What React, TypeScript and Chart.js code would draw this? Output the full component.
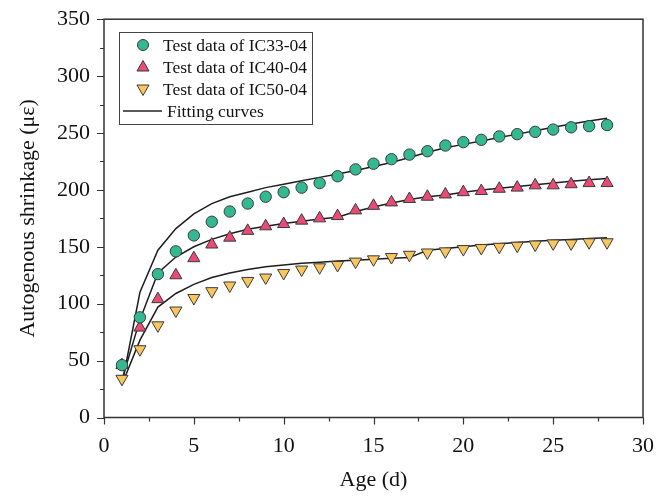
import React, { useEffect, useRef } from 'react';
import { Chart, registerables } from 'chart.js';

Chart.register(...registerables);

const days = [1, 2, 3, 4, 5, 6, 7, 8, 9, 10, 11, 12, 13, 14, 15, 16, 17, 18, 19, 20, 21, 22, 23, 24, 25, 26, 27, 28];

const ic33 = [46, 88, 126, 146, 160, 172, 181, 188, 194, 198, 202, 206, 212, 218, 223, 227, 231, 234, 239, 242, 244, 247, 249, 251, 253, 255, 256, 257];
const ic40 = [46, 79, 104, 125, 140, 152, 158, 164, 168, 170, 173, 175, 177, 182, 186, 189, 192, 194, 196, 198, 199, 201, 202, 204, 204, 205, 206, 206];
const ic50 = [34, 60, 81, 94, 105, 111, 116, 120, 123, 127, 130, 132, 134, 137, 139, 141, 143, 145, 146, 148, 149, 150, 151, 152, 153, 153, 154, 154];

const fit33 = [29, 110, 147, 166, 179, 188, 194, 198, 202, 205, 208, 211, 214, 217, 220.5, 224, 228.5, 233, 237, 240, 243, 246, 249, 252, 255, 258, 260.5, 263];
const fit40 = [33, 86, 127, 141, 150, 156.5, 161.5, 165.5, 168, 170.5, 172.5, 174.5, 176, 181, 185, 188.5, 191.5, 194, 195.5, 198, 200, 201.5, 203, 204.5, 206, 207.5, 209, 210];
const fit50 = [29, 68, 97, 109, 117, 123, 127, 130, 132.5, 134, 135.5, 136.5, 137.5, 138.2, 139, 140, 140.5, 147, 148.5, 150, 151.5, 152.7, 153.8, 154.8, 155.7, 156.5, 157.2, 158];

const seriesLabels = ['Test data of IC33-04', 'Test data of IC40-04', 'Test data of IC50-04', 'Fitting curves'];
const xTitle = 'Age (d)';
const yTitle = 'Autogenous shrinkage (\u03bc\u03b5)';

const FONT = '"Liberation Serif", "Times New Roman", serif';
const C_TEAL = '#34b892';
const C_PINK = '#e94a76';
const C_YELLOW = '#f8c55e';
const EDGE = '#3a3a3a';
const TEXT = '#111';

const pts = (ys: number[]) => days.map((d, i) => ({ x: d, y: ys[i] }));

function drawMarker(ctx: CanvasRenderingContext2D, kind: string, x: number, y: number, r: number, fill: string) {
  ctx.beginPath();
  if (kind === 'circle') {
    ctx.arc(x, y, r, 0, Math.PI * 2);
  } else {
    const s = kind === 'up' ? 1 : -1;
    const h = Math.sqrt(3) / 2 * r;
    ctx.moveTo(x, y - s * r);
    ctx.lineTo(x + h, y + s * r / 2);
    ctx.lineTo(x - h, y + s * r / 2);
    ctx.closePath();
  }
  ctx.fillStyle = fill;
  ctx.fill();
  ctx.lineWidth = 1;
  ctx.strokeStyle = EDGE;
  ctx.stroke();
}

const framePlugin = {
  id: 'frame',
  afterDraw(chart: any) {
    const { ctx, chartArea: a, scales } = chart;
    const xs = scales.x;
    const ys = scales.y;
    ctx.save();
    ctx.strokeStyle = '#333';
    ctx.lineWidth = 1.5;
    ctx.strokeRect(a.left, a.top, a.right - a.left, a.bottom - a.top);
    ctx.lineWidth = 1.2;
    ctx.beginPath();
    for (let v = 0; v <= 30.001; v += 2.5) {
      const px = Math.round(xs.getPixelForValue(v)) + 0.5;
      const len = Math.abs(v % 5) < 1e-6 ? 7 : 4;
      ctx.moveTo(px, a.bottom);
      ctx.lineTo(px, a.bottom + len);
    }
    for (let v = 0; v <= 350.001; v += 25) {
      const py = Math.round(ys.getPixelForValue(v)) + 0.5;
      const len = Math.abs(v % 50) < 1e-6 ? 7 : 4;
      ctx.moveTo(a.left, py);
      ctx.lineTo(a.left - len, py);
    }
    ctx.stroke();

    // legend
    const bx = 119.5, by = 32.5, bw = 193, bh = 92;
    ctx.lineWidth = 1;
    ctx.strokeStyle = '#444';
    ctx.strokeRect(bx, by, bw, bh);
    ctx.font = '17.5px ' + FONT;
    ctx.textBaseline = 'middle';
    ctx.textAlign = 'left';
    const rows = [45, 67, 89, 111];
    drawMarker(ctx, 'circle', 143, rows[0], 5.5, C_TEAL);
    drawMarker(ctx, 'up', 143, rows[1] + 0.5, 7, C_PINK);
    drawMarker(ctx, 'down', 143, rows[2] - 0.5, 7, C_YELLOW);
    ctx.beginPath();
    ctx.strokeStyle = '#222';
    ctx.lineWidth = 1.4;
    ctx.moveTo(123, rows[3]);
    ctx.lineTo(162, rows[3]);
    ctx.stroke();
    ctx.fillStyle = TEXT;
    ctx.fillText(seriesLabels[0], 163, rows[0] + 1);
    ctx.fillText(seriesLabels[1], 163, rows[1] + 1);
    ctx.fillText(seriesLabels[2], 163, rows[2] + 1);
    ctx.fillText(seriesLabels[3], 167, rows[3] + 1);
    ctx.restore();
  },
};

export default function App() {
  const ref = useRef<HTMLCanvasElement | null>(null);
  useEffect(() => {
    if (!ref.current) return;
    const lineDs = (ys: number[]) => ({
      type: 'line' as const,
      label: 'fit',
      data: pts(ys),
      borderColor: '#1e1e1e',
      borderWidth: 1.5,
      pointRadius: 0,
      fill: false,
      tension: 0,
      order: 2,
    });
    const scatterDs = (label: string, ys: number[], style: string, rot: number, r: number, color: string) => ({
      type: 'scatter' as const,
      label,
      data: pts(ys),
      pointStyle: style,
      rotation: rot,
      pointRadius: r,
      backgroundColor: color,
      borderColor: EDGE,
      borderWidth: 1,
      order: 1,
    });
    const chart = new Chart(ref.current, {
      type: 'scatter',
      data: {
        datasets: [
          scatterDs(seriesLabels[0], ic33, 'circle', 0, 5.7, C_TEAL),
          scatterDs(seriesLabels[1], ic40, 'triangle', 0, 7, C_PINK),
          scatterDs(seriesLabels[2], ic50, 'triangle', 180, 7, C_YELLOW),
          lineDs(fit33),
          lineDs(fit40),
          lineDs(fit50),
        ] as any,
      },
      options: {
        responsive: false,
        animation: false,
        devicePixelRatio: 1,
        layout: { padding: { left: 0, right: 29, top: 17, bottom: 0 } },
        plugins: { legend: { display: false }, tooltip: { enabled: false } },
        scales: {
          x: {
            type: 'linear',
            min: 0,
            max: 30,
            grid: { display: false },
            border: { display: false },
            ticks: { stepSize: 5, color: TEXT, padding: 8, font: { family: FONT, size: 22 } },
            title: { display: true, text: xTitle, color: TEXT, padding: { top: 0, bottom: 3 }, font: { family: FONT, size: 22 } },
            afterFit: (s: any) => { s.height = 78.5; },
          },
          y: {
            type: 'linear',
            min: 0,
            max: 350,
            grid: { display: false },
            border: { display: false },
            ticks: { stepSize: 50, color: TEXT, padding: 6, font: { family: FONT, size: 22 } },
            title: { display: true, text: yTitle, color: TEXT, padding: { top: 15, bottom: 0 }, font: { family: FONT, size: 22 } },
            afterFit: (s: any) => { s.width = 104; },
          },
        },
      },
      plugins: [framePlugin],
    });
    return () => chart.destroy();
  }, []);
  return (
    <canvas
      ref={ref}
      width={672}
      height={496}
      style={{ position: 'absolute', left: 0, top: 0, display: 'block', background: '#fff' }}
    />
  );
}
